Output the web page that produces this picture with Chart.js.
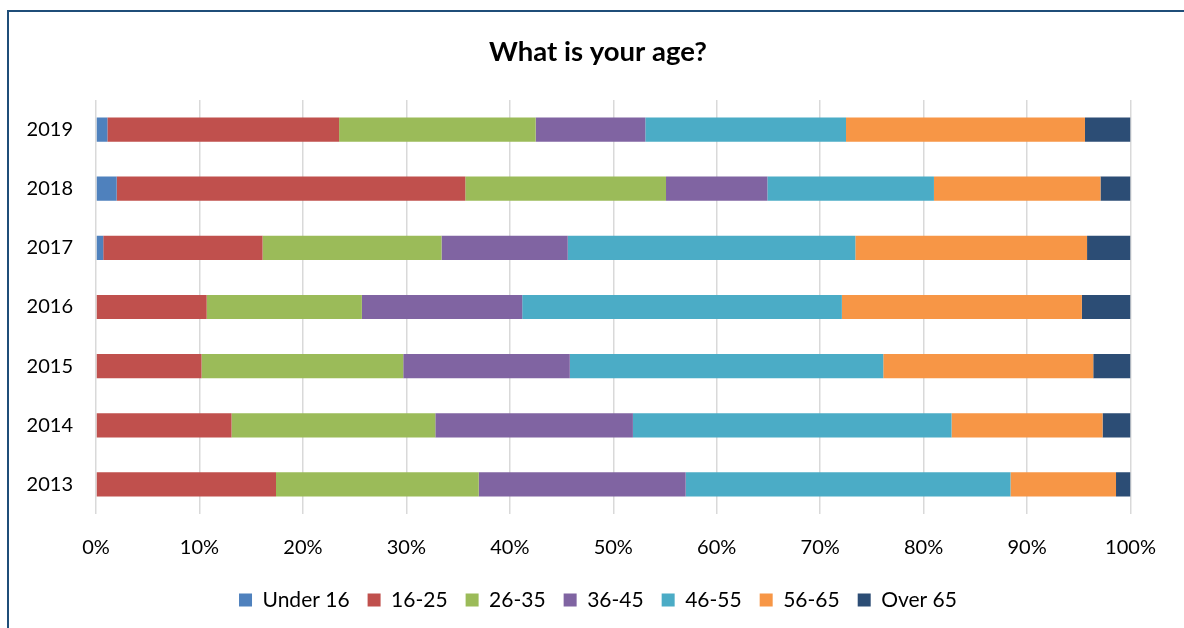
<!DOCTYPE html>
<html>
<head>
<meta charset="utf-8">
<script src="https://cdn.jsdelivr.net/npm/chart.js@4"></script>
<style>
    body {
        margin: 0;
        background: #ffffff;
    }
    #caja {
        position: relative;
        width: 1184px;
        height: 628px;
    }
    #marco {
        position: absolute;
        left: 7px;
        top: 10px;
        right: 0;
        bottom: 0;
        border-top: 2px solid #1f4e79;
        border-left: 2px solid #1f4e79;
        pointer-events: none;
    }
</style>
</head>
<body>
<div id="caja">
    <canvas id="edades"></canvas>
    <div id="marco"></div>
</div>
<script>
//Años, de arriba hacia abajo
const anios = ["2019", "2018", "2017", "2016", "2015", "2014", "2013"];
//Porcentaje de cada tramo de edad por año
const menores16 = [1.1, 2.0, 0.7, 0, 0, 0, 0];
const tramo16a25 = [22.4, 33.7, 15.4, 10.7, 10.2, 13.1, 17.4];
const tramo26a35 = [19.0, 19.4, 17.3, 15.0, 19.5, 19.7, 19.6];
const tramo36a45 = [10.6, 9.8, 12.2, 15.5, 16.1, 19.1, 20.0];
const tramo46a55 = [19.4, 16.1, 27.8, 30.9, 30.3, 30.8, 31.4];
const tramo56a65 = [23.1, 16.1, 22.4, 23.2, 20.3, 14.6, 10.2];
const mayores65 = [4.4, 2.9, 4.2, 4.7, 3.6, 2.7, 1.4];
const tramos = ["Under 16", "16-25", "26-35", "36-45", "46-55", "56-65", "Over 65"];
const colores = ["#4f81bd", "#c0504d", "#9bbb59", "#8064a2", "#4bacc6", "#f79646", "#2c4d75"];

const valores = [menores16, tramo16a25, tramo26a35, tramo36a45, tramo46a55, tramo56a65, mayores65];
const series = tramos.map((nombre, i) => ({
    label: nombre,
    data: valores[i],
    backgroundColor: colores[i],
    borderWidth: 0,
    barPercentage: 0.41,
    categoryPercentage: 1,
}));

const letra = "Lato, 'Open Sans', sans-serif";

new Chart(document.getElementById("edades"), {
    type: "bar",
    data: {
        labels: anios,
        datasets: series,
    },
    options: {
        indexAxis: "y",
        responsive: true,
        maintainAspectRatio: false,
        animation: false,
        layout: {
            padding: { top: 0, left: 12, right: 0, bottom: 7.5 },
        },
        plugins: {
            title: {
                display: true,
                text: "What is your age?",
                color: "#000000",
                font: { family: letra, size: 27.5, weight: "bold" },
                padding: { top: 35.5, bottom: 31.5 },
            },
            legend: {
                position: "bottom",
                labels: {
                    color: "#000000",
                    font: { family: letra, size: 21 },
                    boxWidth: 13,
                    boxHeight: 13,
                    padding: 18,
                },
            },
            tooltip: { enabled: false },
        },
        scales: {
            x: {
                stacked: true,
                min: 0,
                max: 100,
                ticks: {
                    stepSize: 10,
                    color: "#000000",
                    font: { family: letra, size: 20 },
                    padding: 22,
                    maxRotation: 0,
                    callback: function (numero) {
                        return numero + "%";
                    },
                },
                grid: {
                    color: "#d9d9d9",
                    lineWidth: 1.5,
                    drawTicks: false,
                },
                border: { display: false },
                afterFit: function (escala) {
                    escala.height = 57.5;
                },
            },
            y: {
                stacked: true,
                ticks: {
                    color: "#000000",
                    font: { family: letra, size: 20 },
                    padding: 23,
                },
                grid: { display: false, drawTicks: false },
                border: { display: false },
                afterFit: function (escala) {
                    escala.width = 84;
                },
            },
            //Eje vacío a la derecha: solo deja el margen y mantiene centrados título y leyenda
            margen: {
                type: "category",
                position: "right",
                ticks: { display: false },
                grid: { display: false, drawTicks: false },
                border: { display: false },
                afterFit: function (escala) {
                    escala.width = 53.5;
                },
            },
        },
    },
});
</script>
</body>
</html>
